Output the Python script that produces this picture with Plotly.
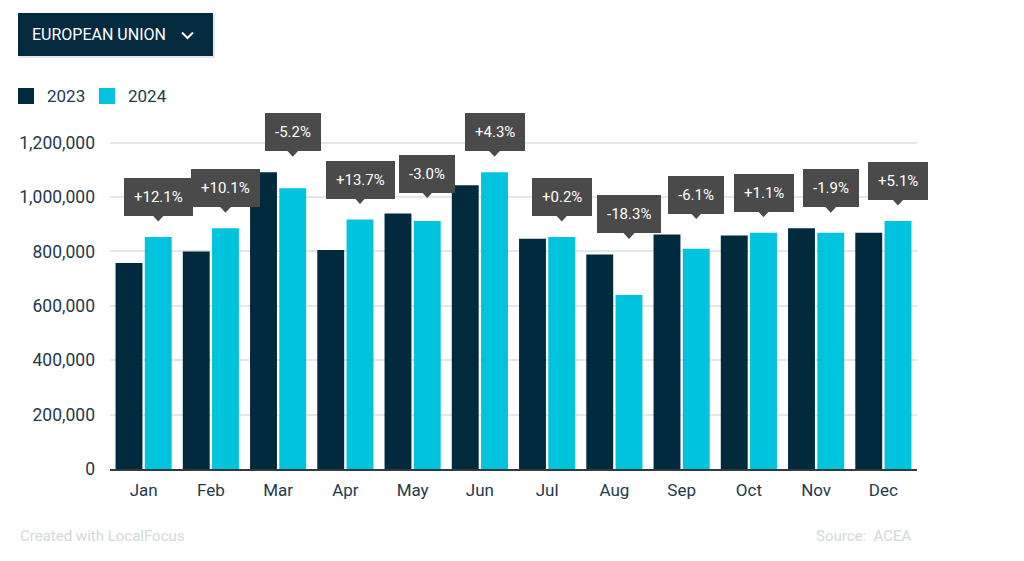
import plotly.graph_objects as go

months = ["Jan", "Feb", "Mar", "Apr", "May", "Jun", "Jul", "Aug", "Sep", "Oct", "Nov", "Dec"]
sales_2023 = [757000, 800000, 1091000, 805000, 939000, 1043000, 847000, 789000, 862000, 859000, 885000, 869000]
sales_2024 = [853000, 885000, 1032000, 917000, 912000, 1091000, 853000, 640000, 810000, 869000, 869000, 912000]
changes = ["+12.1%", "+10.1%", "-5.2%", "+13.7%", "-3.0%", "+4.3%", "+0.2%", "-18.3%", "-6.1%", "+1.1%", "-1.9%", "+5.1%"]
y_ticks = [0, 200000, 400000, 600000, 800000, 1000000, 1200000]

C23 = "#022a3f"
C24 = "#00c4dd"
LABEL_BG = "#4a4a4a"
TXT = "#233a4b"
FONT = "Roboto"

OFF = 8  # page body margin
W, H = 1024 - 2 * OFF, 561 - 2 * OFF
L, R, T, B = 110 - OFF, 917 - OFF, 110 - OFF, 469 - OFF  # plot area in figure pixels


def px(x):
    return (x - OFF - L) / (R - L)


def py(y):
    return (B - (y - OFF)) / (B - T)


xs = list(range(len(months)))
fig = go.Figure()
fig.add_trace(go.Bar(x=xs, y=sales_2023, name="2023", marker=dict(color=C23, line=dict(width=0))))
fig.add_trace(go.Bar(x=xs, y=sales_2024, name="2024", marker=dict(color=C24, line=dict(width=0))))

shapes = []
annotations = []

bargap = 0.13
slot = (1 - bargap) / 2
off24 = slot / 2  # centre of 2024 bar relative to category centre

for i, (a, b, lab) in enumerate(zip(sales_2023, sales_2024, changes)):
    top = max(a, b)
    annotations.append(dict(
        x=i + off24, y=top, xref="x", yref="y", text=lab, showarrow=False,
        yanchor="bottom", xanchor="center", yshift=21,
        font=dict(family=FONT, size=15, color="white"),
        bgcolor=LABEL_BG, borderpad=10, bordercolor=LABEL_BG, borderwidth=0,
    ))
    shapes.append(dict(
        type="path", xref="x", yref="y", xsizemode="pixel", ysizemode="pixel",
        xanchor=i + off24, yanchor=top,
        path="M -6 22 L 6 22 L 0 15.5 Z",
        fillcolor=LABEL_BG, line=dict(width=0), layer="above",
    ))

# title dropdown button
shapes.append(dict(type="rect", xref="paper", yref="paper",
                   x0=px(19), x1=px(215), y0=py(58), y1=py(14),
                   fillcolor="#e4e7e9", line=dict(width=0), layer="below"))
shapes.append(dict(type="rect", xref="paper", yref="paper",
                   x0=px(18), x1=px(213), y0=py(56), y1=py(13),
                   fillcolor="#032a3f", line=dict(width=0), layer="above"))
shapes.append(dict(type="path", xref="paper", yref="paper",
                   path=f"M {px(182)} {py(32.5)} L {px(187.5)} {py(38)} L {px(193)} {py(32.5)}",
                   line=dict(color="white", width=2)))
annotations.append(dict(x=px(30), y=py(34.5), xref="paper", yref="paper", text="EUROPEAN UNION",
                        showarrow=False, xanchor="left", yanchor="middle",
                        font=dict(family=FONT, size=16, color="white")))

# legend
for x0, col, name in [(18, C23, "2023"), (99, C24, "2024")]:
    shapes.append(dict(type="rect", xref="paper", yref="paper",
                       x0=px(x0), x1=px(x0 + 16), y0=py(104), y1=py(88),
                       fillcolor=col, line=dict(width=0)))
    annotations.append(dict(x=px(x0 + 27), y=py(96), xref="paper", yref="paper", text=name,
                            showarrow=False, xanchor="left", yanchor="middle",
                            font=dict(family=FONT, size=17, color=TXT)))

# footer
annotations.append(dict(x=px(18), y=py(536), xref="paper", yref="paper", text="Created with LocalFocus",
                        showarrow=False, xanchor="left", yanchor="middle",
                        font=dict(family=FONT, size=15, color="#d3d8dc")))
annotations.append(dict(x=px(914), y=py(536), xref="paper", yref="paper", text="Source:&nbsp; ACEA",
                        showarrow=False, xanchor="right", yanchor="middle",
                        font=dict(family=FONT, size=15, color="#d3d8dc")))

fig.update_layout(
    width=W, height=H,
    margin=dict(l=L, r=W - R, t=T, b=H - B, pad=0),
    paper_bgcolor="white", plot_bgcolor="white",
    barmode="group", bargap=bargap, bargroupgap=0.08,
    showlegend=False,
    font=dict(family=FONT, color=TXT),
    xaxis=dict(
        tickmode="array", tickvals=xs, ticktext=months, range=[-0.5, 11.5],
        showgrid=False, zeroline=False, showline=True, linecolor="#333a40", linewidth=2,
        ticks="", tickfont=dict(family=FONT, size=17, color=TXT), ticklabelstandoff=5,
    ),
    yaxis=dict(
        range=[0, 1320000], tickmode="array", tickvals=y_ticks,
        ticktext=[f"{v:,}" for v in y_ticks],
        showgrid=True, gridcolor="#e3e7ea", gridwidth=1.5, zeroline=False, showline=False,
        ticks="", tickfont=dict(family=FONT, size=17.5, color=TXT), ticklabelstandoff=14,
    ),
    shapes=shapes, annotations=annotations,
)

fig.write_html("out.html")
